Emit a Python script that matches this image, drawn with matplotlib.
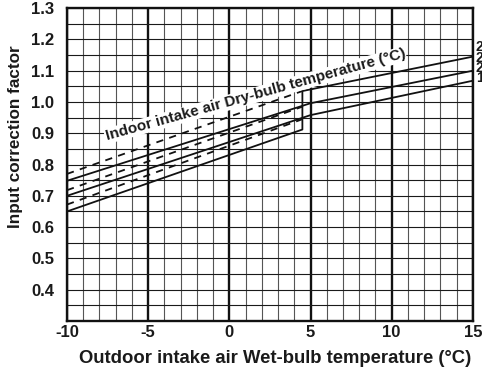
"""Input correction factor chart - outdoor wet-bulb vs indoor dry-bulb."""

import numpy as np
import matplotlib
matplotlib.use('Agg')
import matplotlib.pyplot as plt

# Data
solid_a_x = [-10, 5, 15]
solid_a_y = [0.748, 0.996, 1.100]
solid_b_x = [-10, 5, 15]
solid_b_y = [0.700, 0.958, 1.068]
solid_c_x = [-10, 4.5, 4.5, 15]
solid_c_y = [0.650, 0.912, 1.035, 1.145]

dash_1_x = [-10, 4.5]
dash_1_y = [0.770, 1.035]
dash_2_x = [-10, 4.5]
dash_2_y = [0.718, 0.985]
dash_3_x = [-10, 4.5]
dash_3_y = [0.672, 0.945]

x_ticks = [-10, -5, 0, 5, 10, 15]
y_ticks = [0.4, 0.5, 0.6, 0.7, 0.8, 0.9, 1.0, 1.1, 1.2, 1.3]
y_tick_labels = ['0.4', '0.5', '0.6', '0.7', '0.8', '0.9', '1.0', '1.1', '1.2', '1.3']

# Indoor dry-bulb labels at the right edge (cut off in the original)
right_labels = ['24', '22', '20', '18']
right_label_y = [1.175, 1.141, 1.110, 1.076]

plt.rcParams['font.family'] = ['Liberation Sans', 'DejaVu Sans']
plt.rcParams['font.weight'] = 'bold'
plt.rcParams['axes.unicode_minus'] = False

fig = plt.figure(figsize=(4.82, 3.71), dpi=100)
ax = fig.add_axes([0.139, 0.135, 0.842, 0.843])

ax.set_xlim(-10, 15)
ax.set_ylim(0.3, 1.3)

# Grid
ax.set_xticks(x_ticks)
ax.set_xticks(np.arange(-10, 16, 1), minor=True)
ax.set_yticks(y_ticks)
ax.set_yticks(np.arange(0.3, 1.31, 0.05), minor=True)
ax.set_yticklabels(y_tick_labels)
ax.tick_params(which='both', length=0, labelcolor='#1a1a1a')
ax.tick_params(axis='x', pad=3, labelsize=12)
ax.tick_params(axis='y', pad=9, labelsize=12)

ax.grid(True, axis='x', which='major', color='#111111', linewidth=1.7)
ax.grid(True, axis='x', which='minor', color='#555555', linewidth=0.8)
ax.grid(True, axis='y', which='both', color='#1a1a1a', linewidth=0.8)
ax.set_axisbelow(True)

for s in ax.spines.values():
    s.set_linewidth(1.7)
    s.set_color('#111111')

# Curves
lw = 1.3
ax.plot(solid_a_x, solid_a_y, color='#111111', lw=lw)
ax.plot(solid_b_x, solid_b_y, color='#111111', lw=lw)
ax.plot(solid_c_x, solid_c_y, color='#111111', lw=lw)
for dx, dy in [(dash_1_x, dash_1_y), (dash_2_x, dash_2_y), (dash_3_x, dash_3_y)]:
    ax.plot(dx, dy, color='#111111', lw=lw, dashes=(4, 3.5))

# Annotation
ax.text(1.6, 1.022, 'Indoor intake air Dry-bulb temperature (°C)', rotation=15.5,
        rotation_mode='anchor', ha='center', va='center', fontsize=11,
        fontweight='bold', color='#1a1a1a',
        bbox=dict(facecolor='white', edgecolor='none', pad=0.5))

for lab, yv in zip(right_labels, right_label_y):
    ax.text(15.18, yv, lab, fontsize=10, ha='left', va='center', clip_on=False,
            color='#1a1a1a')

ax.set_xlabel('Outdoor intake air Wet-bulb temperature (°C)', fontsize=13.3,
              fontweight='bold', color='#1a1a1a')
ax.xaxis.set_label_coords(0.514, -0.093)
ax.set_ylabel('Input correction factor', fontsize=12.3, fontweight='bold',
              color='#1a1a1a')
ax.yaxis.set_label_coords(-0.108, 0.588)

plt.savefig('out.png', dpi=100)
